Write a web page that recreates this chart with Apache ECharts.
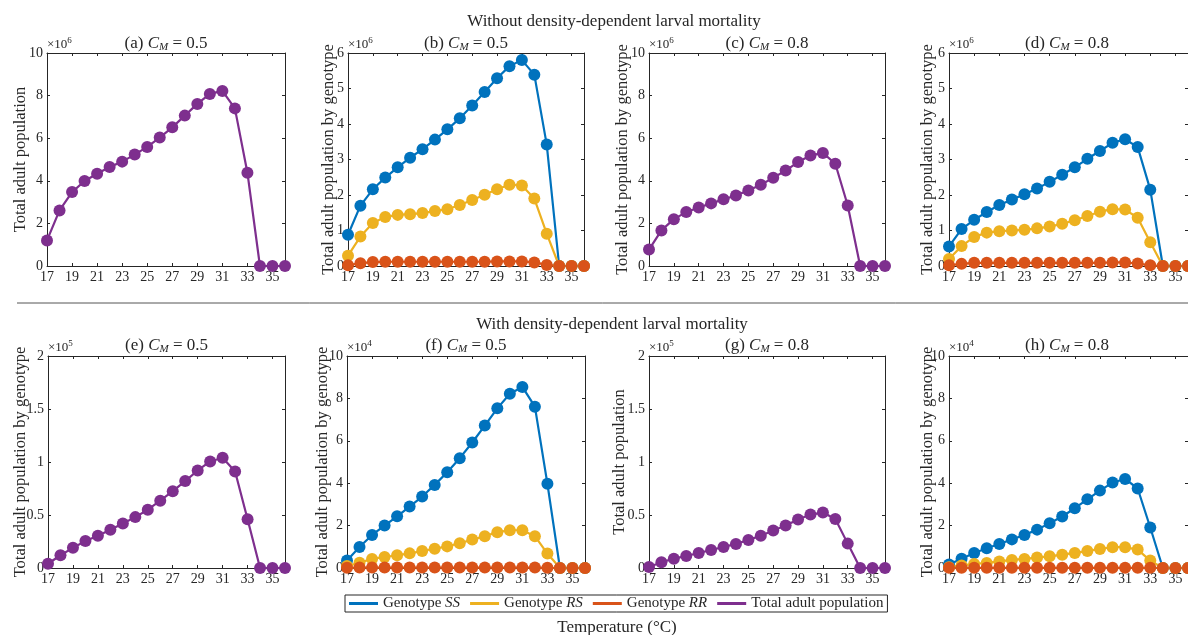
<!DOCTYPE html>
<html>
<head>
<meta charset="utf-8">
<script src="https://cdn.jsdelivr.net/npm/echarts@6/dist/echarts.min.js"></script>
<style>
  html, body { margin: 0; padding: 0; background: #fff; }
  #chart { width: 1188px; height: 635px; }
</style>
</head>
<body>
<div id="chart"></div>
<script>
const temps = [17, 18, 19, 20, 21, 22, 23, 24, 25, 26, 27, 28, 29, 30, 31, 32, 33, 34, 35, 36];

// without density-dependent larval mortality (x10^6)
const totalA = [1.2, 2.61, 3.47, 3.99, 4.33, 4.65, 4.9, 5.23, 5.59, 6.03, 6.51, 7.06, 7.61, 8.08, 8.22, 7.4, 4.38, 0, 0, 0];
const ssB = [0.88, 1.7, 2.16, 2.49, 2.78, 3.05, 3.29, 3.56, 3.85, 4.16, 4.52, 4.9, 5.29, 5.63, 5.8, 5.39, 3.42, 0, 0, 0];
const rsB = [0.29, 0.83, 1.21, 1.38, 1.44, 1.46, 1.49, 1.55, 1.6, 1.72, 1.86, 2.01, 2.16, 2.29, 2.27, 1.9, 0.91, 0, 0, 0];
const rrB = [0.02, 0.08, 0.11, 0.12, 0.12, 0.12, 0.12, 0.12, 0.12, 0.12, 0.12, 0.12, 0.13, 0.13, 0.13, 0.1, 0.03, 0, 0, 0];
const totalC = [0.77, 1.67, 2.2, 2.53, 2.75, 2.94, 3.13, 3.31, 3.55, 3.81, 4.14, 4.48, 4.88, 5.19, 5.31, 4.8, 2.84, 0, 0, 0];
const ssD = [0.55, 1.04, 1.3, 1.52, 1.72, 1.87, 2.02, 2.18, 2.37, 2.57, 2.78, 3.02, 3.24, 3.47, 3.57, 3.35, 2.15, 0, 0, 0];
const rsD = [0.2, 0.56, 0.82, 0.94, 0.98, 1.0, 1.02, 1.06, 1.11, 1.19, 1.29, 1.41, 1.53, 1.6, 1.59, 1.36, 0.67, 0, 0, 0];
const rrD = [0.02, 0.06, 0.09, 0.09, 0.09, 0.09, 0.09, 0.09, 0.09, 0.09, 0.09, 0.09, 0.09, 0.1, 0.1, 0.07, 0.02, 0, 0, 0];

// with density-dependent larval mortality (x10^5 / x10^4)
const totalE = [0.04, 0.12, 0.19, 0.255, 0.305, 0.36, 0.42, 0.48, 0.55, 0.635, 0.725, 0.82, 0.92, 1.005, 1.04, 0.91, 0.46, 0, 0, 0];
const ssF = [0.35, 0.99, 1.56, 2.0, 2.44, 2.9, 3.37, 3.92, 4.52, 5.18, 5.92, 6.72, 7.53, 8.22, 8.54, 7.61, 3.97, 0, 0, 0];
const rsF = [0.09, 0.25, 0.43, 0.52, 0.6, 0.69, 0.8, 0.91, 1.02, 1.17, 1.34, 1.5, 1.69, 1.78, 1.78, 1.5, 0.68, 0, 0, 0];
const rrF = [0.01, 0.02, 0.02, 0.02, 0.02, 0.02, 0.02, 0.02, 0.02, 0.02, 0.02, 0.02, 0.02, 0.02, 0.02, 0.02, 0.01, 0, 0, 0];
const totalG = [0.01, 0.054, 0.088, 0.113, 0.142, 0.17, 0.198, 0.227, 0.265, 0.305, 0.353, 0.4, 0.457, 0.504, 0.523, 0.463, 0.23, 0, 0, 0];
const ssH = [0.16, 0.44, 0.71, 0.93, 1.13, 1.35, 1.56, 1.81, 2.11, 2.43, 2.82, 3.24, 3.65, 4.03, 4.2, 3.75, 1.91, 0, 0, 0];
const rsH = [0.04, 0.12, 0.19, 0.24, 0.31, 0.38, 0.43, 0.49, 0.55, 0.63, 0.71, 0.8, 0.9, 0.98, 0.98, 0.87, 0.35, 0, 0, 0];
const rrH = [0.01, 0.01, 0.01, 0.01, 0.01, 0.01, 0.01, 0.01, 0.01, 0.01, 0.01, 0.01, 0.01, 0.01, 0.01, 0.01, 0.01, 0, 0, 0];

const colors = { SS: "#0072BD", RS: "#EDB120", RR: "#D95319", Total: "#7E2F8E" };
const serif = "Liberation Serif";
const ink = "#262626";

const panels = [
  { tag: "a", cm: "0.5", left: 47, top: 53, width: 238, height: 213, max: 10, step: 2, exp: "6", label: "Total adult population", gap: 18, lines: { Total: totalA } },
  { tag: "b", cm: "0.5", left: 348, top: 53, width: 236, height: 213, max: 6, step: 1, exp: "6", label: "Total adult population by genotype", gap: 11, lines: { SS: ssB, RS: rsB, RR: rrB } },
  { tag: "c", cm: "0.8", left: 649, top: 53, width: 236, height: 213, max: 10, step: 2, exp: "6", label: "Total adult population by genotype", gap: 18, lines: { Total: totalC } },
  { tag: "d", cm: "0.8", left: 949, top: 53, width: 240, height: 213, max: 6, step: 1, exp: "6", label: "Total adult population by genotype", gap: 13, lines: { SS: ssD, RS: rsD, RR: rrD } },
  { tag: "e", cm: "0.5", left: 48, top: 356, width: 237, height: 212, max: 2, step: 0.5, exp: "5", label: "Total adult population by genotype", gap: 19, lines: { Total: totalE } },
  { tag: "f", cm: "0.5", left: 347, top: 356, width: 238, height: 212, max: 10, step: 2, exp: "4", label: "Total adult population by genotype", gap: 16, lines: { SS: ssF, RS: rsF, RR: rrF } },
  { tag: "g", cm: "0.8", left: 649, top: 356, width: 236, height: 212, max: 2, step: 0.5, exp: "5", label: "Total adult population", gap: 21, lines: { Total: totalG } },
  { tag: "h", cm: "0.8", left: 949, top: 356, width: 240, height: 212, max: 10, step: 2, exp: "4", label: "Total adult population by genotype", gap: 13, lines: { SS: ssH, RS: rsH, RR: rrH } }
];

const rich = {
  i: { fontFamily: serif, fontStyle: "italic", fontSize: 17, color: ink },
  sub: { fontFamily: serif, fontStyle: "italic", fontSize: 11, color: ink, lineHeight: 11, padding: [8, 0, 0, 0] },
  sup: { fontFamily: serif, fontSize: 9, color: ink, lineHeight: 9, padding: [0, 0, 8, 0] }
};

const grids = [], xAxes = [], yAxes = [], series = [];
const titles = [
  { text: "Without density-dependent larval mortality", left: 614, top: 13, textAlign: "center", padding: 0,
    textStyle: { fontFamily: serif, fontSize: 17, fontWeight: "normal", color: ink } },
  { text: "With density-dependent larval mortality", left: 612, top: 316, textAlign: "center", padding: 0,
    textStyle: { fontFamily: serif, fontSize: 17, fontWeight: "normal", color: ink } }
];

const axisLine = { show: true, onZero: false, lineStyle: { color: ink, width: 1 } };
const tick = { show: true, inside: true, length: 3, lineStyle: { color: ink } };

panels.forEach((p, k) => {
  grids.push({ left: p.left, top: p.top, width: p.width, height: p.height, containLabel: false });
  xAxes.push({
    type: "category", gridIndex: k, data: temps, boundaryGap: false, position: "bottom",
    axisLine, axisTick: Object.assign({ interval: 1 }, tick),
    axisLabel: { interval: 1, margin: 4, fontFamily: serif, fontSize: 14, color: ink },
    splitLine: { show: false }
  });
  xAxes.push({
    type: "category", gridIndex: k, data: temps, boundaryGap: false, position: "top",
    axisLine, axisTick: Object.assign({ interval: 1 }, tick),
    axisLabel: { show: false }, splitLine: { show: false }
  });
  yAxes.push({
    type: "value", gridIndex: k, min: 0, max: p.max, interval: p.step, position: "left",
    axisLine, axisTick: tick,
    axisLabel: { margin: 4, fontFamily: serif, fontSize: 14, color: ink },
    splitLine: { show: false },
    name: p.label, nameLocation: "middle", nameRotate: 90, nameGap: p.gap, nameMoveOverlap: false,
    nameTextStyle: { fontFamily: serif, fontSize: 16.5, color: ink }
  });
  yAxes.push({
    type: "value", gridIndex: k, min: 0, max: p.max, interval: p.step, position: "right",
    axisLine, axisTick: tick, axisLabel: { show: false }, splitLine: { show: false }
  });
  titles.push({
    text: "(" + p.tag + ") {i|C}{sub|M} = " + p.cm,
    left: p.left + p.width / 2 - (p.tag === "d" || p.tag === "h" ? 2 : 0),
    top: k < 4 ? 35 : 337,
    textAlign: "center", padding: 0,
    textStyle: { fontFamily: serif, fontSize: 17, fontWeight: "normal", color: ink, rich }
  });
  titles.push({
    text: "\u00d710{sup|" + p.exp + "}", left: p.left, top: p.top - 15, padding: 0,
    textStyle: { fontFamily: serif, fontSize: 13, fontWeight: "normal", color: ink, rich }
  });
  Object.keys(p.lines).forEach(name => {
    series.push({
      name, type: "line", xAxisIndex: 2 * k, yAxisIndex: 2 * k,
      data: p.lines[name], clip: false,
      symbol: "circle", symbolSize: 12, showSymbol: true, showAllSymbol: true,
      lineStyle: { color: colors[name], width: 2.2 },
      itemStyle: { color: colors[name] },
      emphasis: { disabled: true }
    });
  });
});

titles.push({
  text: "Temperature (\u00b0C)", left: 617, top: 619, textAlign: "center", padding: 0,
  textStyle: { fontFamily: serif, fontSize: 17, fontWeight: "normal", color: ink }
});

const legendNames = { SS: "Genotype {i|SS}", RS: "Genotype {i|RS}", RR: "Genotype {i|RR}", Total: "Total adult population" };

const option = {
  animation: false,
  title: titles,
  grid: grids,
  xAxis: xAxes,
  yAxis: yAxes,
  series,
  legend: {
    data: ["SS", "RS", "RR", "Total"],
    left: 345, top: 595,
    icon: "rect", itemWidth: 29, itemHeight: 3, itemGap: 10,
    padding: [1, 4, 1, 4],
    borderColor: ink, borderWidth: 1,
    formatter: n => legendNames[n],
    textStyle: { fontFamily: serif, fontSize: 15, color: ink,
      rich: { i: { fontFamily: serif, fontStyle: "italic", fontSize: 15, color: ink } } }
  },
  graphic: [
    { type: "line", shape: { x1: 17, y1: 303, x2: 1188, y2: 303 }, style: { stroke: "#555", lineWidth: 1 } }
  ]
};

const chart = echarts.init(document.getElementById("chart"), null, { renderer: "canvas" });
chart.setOption(option);
</script>
</body>
</html>
